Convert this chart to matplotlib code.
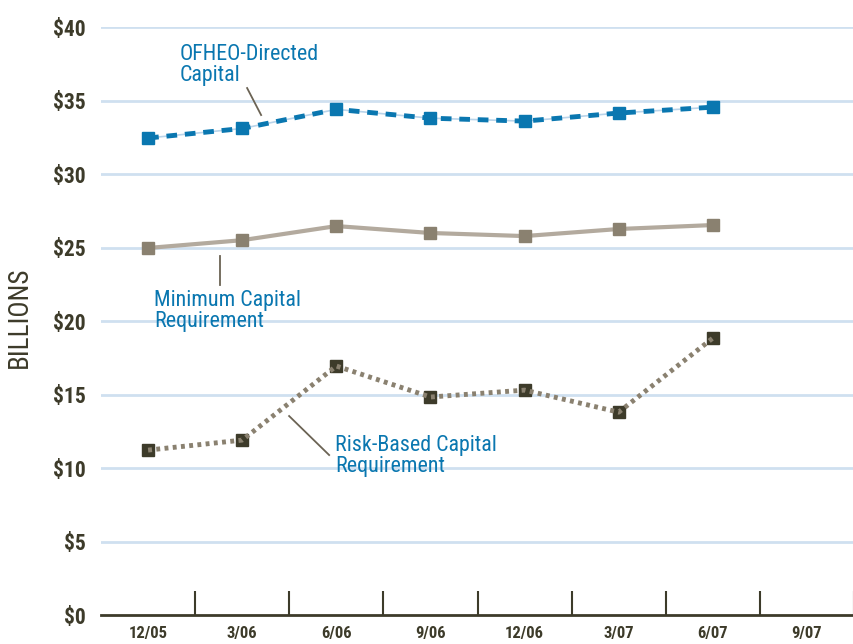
import matplotlib
matplotlib.use("Agg")
import matplotlib.pyplot as plt

FONT = ["Roboto Condensed", "Archivo Narrow", "DejaVu Sans"]

categories = ["12/05", "3/06", "6/06", "9/06", "12/06", "3/07", "6/07", "9/07"]
ofheo = [32.45, 33.1, 34.4, 33.8, 33.6, 34.15, 34.55]
minimum = [24.97, 25.5, 26.46, 25.99, 25.78, 26.26, 26.53]
risk = [11.22, 11.9, 16.94, 14.83, 15.3, 13.8, 18.84]
yticks = [0, 5, 10, 15, 20, 25, 30, 35, 40]
ytick_labels = ["$0", "$5", "$10", "$15", "$20", "$25", "$30", "$35", "$40"]

BLUE = "#0a77b0"
TXT = "#3d3b2a"
GRID = "#cfe0f0"

fig = plt.figure(figsize=(8.54, 6.44), dpi=100)
ax = fig.add_axes([0.1183, 0.045, 0.8817, 0.913])

xs = list(range(len(ofheo)))

for y in yticks[1:]:
    ax.axhline(y, color=GRID, lw=2, zorder=0)

MS = 8.8
# OFHEO
ax.plot(xs, ofheo, color="#b9d4ea", lw=1.2, zorder=2)
ax.plot(xs, ofheo, color=BLUE, lw=3.5, ls=(0, (2.2, 1.6)), zorder=3)
ax.plot(xs, ofheo, ls="none", marker="s", ms=MS, color=BLUE, zorder=4)

# Minimum
ax.plot(xs, minimum, color="#b3aa9e", lw=3, zorder=2)
ax.plot(xs, minimum, ls="none", marker="s", ms=MS, color="#8a8170", zorder=4)

# Risk-based
ax.plot(xs, risk, ls="none", marker="s", ms=MS, color="#3d3b2a", zorder=2)
ax.plot(xs, risk, color="#8a8170", lw=3.5, ls=(0, (0.8, 0.9)), zorder=3)

ax.set_xlim(-0.5, len(categories) - 0.5)
ax.set_ylim(0, 40)
ax.set_xticks(range(len(categories)))
ax.set_xticklabels(categories, family=FONT, fontsize=12, fontweight="bold", color=TXT)
ax.set_xticks([i + 0.5 for i in range(len(categories))], minor=True)
ax.tick_params(axis="x", which="major", length=0, pad=8)
ax.tick_params(axis="x", which="minor", direction="in", length=17, width=1.5, color=TXT)
ax.set_yticks(yticks)
ax.set_yticklabels(ytick_labels, family=FONT, fontsize=15.5, fontweight="bold", color=TXT)
ax.tick_params(axis="y", length=0, pad=11)
for s in ["top", "right", "left"]:
    ax.spines[s].set_visible(False)
ax.spines["bottom"].set_color(TXT)
ax.spines["bottom"].set_linewidth(2)
ax.spines["bottom"].set_zorder(5)

fig.text(0.023, 0.508, "BILLIONS", rotation=90, family=FONT, fontsize=19.5,
         color=TXT, ha="center", va="center")

def px(x, y):
    return ((x - 148) / 94.1, (615 - y) / 14.7)

lab = dict(family=FONT, fontsize=15.8, color=BLUE, ha="left", va="top", linespacing=0.97)
ax.text(*px(180, 44), "OFHEO-Directed\nCapital", **lab)
ax.text(*px(154, 290), "Minimum Capital\nRequirement", **lab)
ax.text(*px(335, 435), "Risk-Based Capital\nRequirement", **lab)

LC = "#6b6354"
for (x1, y1), (x2, y2) in [((247, 88), (261, 115)), ((220, 256), (220, 285)), ((289, 416), (329, 455))]:
    a, b = px(x1, y1)
    c, d = px(x2, y2)
    ax.plot([a, c], [b, d], color=LC, lw=1.3, zorder=3)

fig.savefig("out.png", dpi=100)
